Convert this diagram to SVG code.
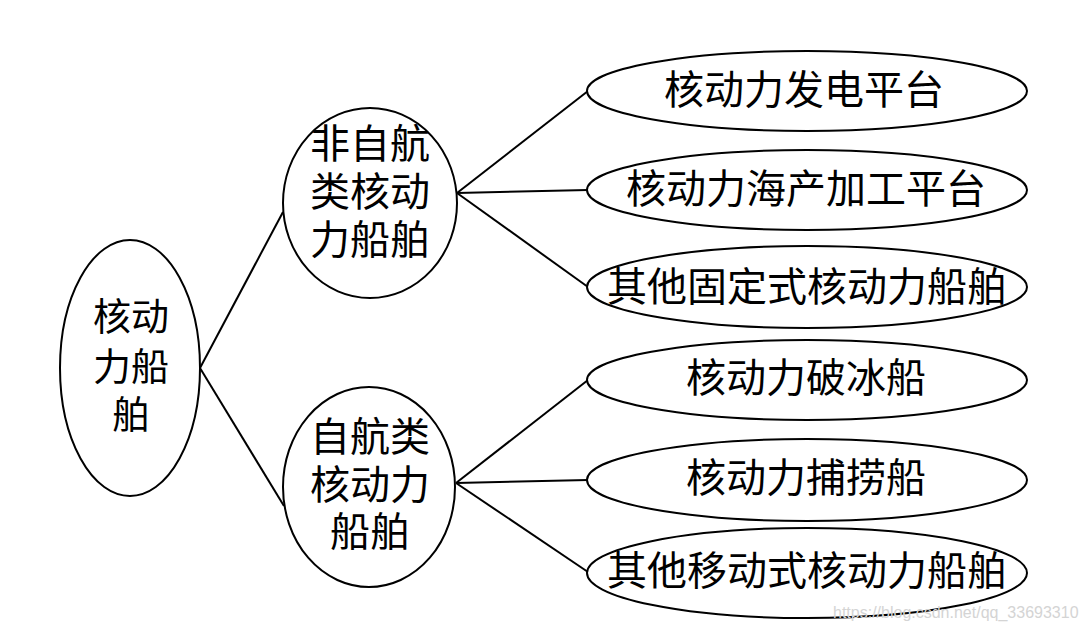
<svg xmlns="http://www.w3.org/2000/svg" width="1086" height="630" viewBox="0 0 1086 630">
<style>
.n ellipse{fill:#fff;stroke:#000;stroke-width:2}
.t{font-family:"Liberation Serif","Noto Sans CJK SC",serif;font-size:40px;text-anchor:middle;dominant-baseline:central;fill:#000}
.c line{stroke:#000;stroke-width:2}
.wm{font-family:"Liberation Sans",sans-serif;font-size:16px;fill:#d4d4d4}
</style>
<rect width="1086" height="630" fill="#fff"/>
<g class="c" id="connectors">
<line x1="200" y1="368" x2="283" y2="212"/>
<line x1="200" y1="368" x2="284" y2="506"/>
<line x1="457" y1="193" x2="588" y2="91"/>
<line x1="457" y1="193" x2="588" y2="190"/>
<line x1="457" y1="193" x2="588" y2="287"/>
<line x1="456" y1="483" x2="588" y2="380"/>
<line x1="456" y1="483" x2="588" y2="480"/>
<line x1="456" y1="483" x2="588" y2="572"/>
</g>
<g class="n" id="root">
<ellipse cx="130" cy="368" rx="70" ry="128"/>
<text class="t" style="font-size:38px" x="131" y="317">核动</text>
<text class="t" style="font-size:38px" x="131" y="367">力船</text>
<text class="t" style="font-size:38px" x="131" y="415">舶</text>
</g>
<g class="n" id="nonself">
<ellipse cx="370" cy="203" rx="87" ry="95"/>
<text class="t" x="370" y="144">非自航</text>
<text class="t" x="370" y="192">类核动</text>
<text class="t" x="370" y="240">力船舶</text>
</g>
<g class="n" id="self">
<ellipse cx="369" cy="487" rx="86" ry="100"/>
<text class="t" x="370" y="437">自航类</text>
<text class="t" x="370" y="485">核动力</text>
<text class="t" x="370" y="532">船舶</text>
</g>
<g class="n" id="n1">
<ellipse cx="807" cy="91" rx="220" ry="40"/>
<text class="t" x="804" y="90">核动力发电平台</text>
</g>
<g class="n" id="n2">
<ellipse cx="807" cy="190" rx="220" ry="40"/>
<text class="t" x="806" y="189">核动力海产加工平台</text>
</g>
<g class="n" id="n3">
<ellipse cx="807" cy="287" rx="220" ry="41"/>
<text class="t" x="807" y="287">其他固定式核动力船舶</text>
</g>
<g class="n" id="n4">
<ellipse cx="807" cy="380" rx="220" ry="40"/>
<text class="t" x="806" y="378">核动力破冰船</text>
</g>
<g class="n" id="n5">
<ellipse cx="807" cy="480" rx="220" ry="41"/>
<text class="t" x="806" y="478">核动力捕捞船</text>
</g>
<g class="n" id="n6">
<ellipse cx="807" cy="573" rx="220" ry="45"/>
<text class="t" x="807" y="571">其他移动式核动力船舶</text>
</g>
<text class="wm" x="833" y="618">https://blog.csdn.net/qq_33693310</text>
</svg>
